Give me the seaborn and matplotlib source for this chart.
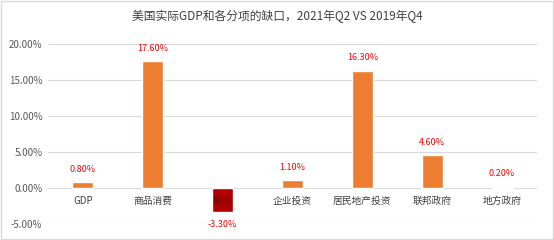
import matplotlib
matplotlib.use("Agg")
import matplotlib.pyplot as plt
import seaborn as sns
import pandas as pd
from matplotlib.patches import Rectangle

categories = ["GDP", "商品消费", "服务", "企业投资", "居民地产投资", "联邦政府", "地方政府"]
values = [0.80, 17.60, -3.30, 1.10, 16.30, 4.60, 0.20]
bar_colors = ["#ED7D31", "#ED7D31", "#B00000", "#ED7D31", "#ED7D31", "#ED7D31", "#ED7D31"]
yticks = [-5, 0, 5, 10, 15, 20]
title = "美国实际GDP和各分项的缺口，2021年Q2 VS 2019年Q4"

sns.set_theme(style="white")
plt.rcParams['font.family'] = ['Noto Sans CJK SC', 'DejaVu Sans']

df = pd.DataFrame({"cat": categories, "val": values})

fig = plt.figure(figsize=(5.54, 2.40), dpi=100)
ax = fig.add_axes([0.0866, 0.0667, 0.8827, 0.75])

sns.barplot(data=df, x="cat", y="val", hue="cat", palette=bar_colors, legend=False,
            width=0.3, ax=ax, zorder=3, saturation=1)

ax.set_ylim(-5, 20)
ax.set_yticks(yticks)
ax.set_yticklabels([f"{v:.2f}%" for v in yticks], fontsize=7, color="#595959")
ax.set_xlim(-0.5, len(categories) - 0.5)
ax.set_xlabel("")
ax.set_ylabel("")
ax.grid(axis="y", color="#D9D9D9", linewidth=0.8, zorder=0)
for s in ax.spines.values():
    s.set_visible(False)
ax.tick_params(axis="both", length=0, pad=4)

# category labels placed just below zero line
ax.set_xticks(range(len(categories)))
ax.set_xticklabels([])
for i, c in enumerate(categories):
    col = "#7A0000" if values[i] < 0 else "#404040"
    ax.annotate(c, xy=(i, 0), xytext=(0, -6), textcoords="offset points",
                ha="center", va="top", fontsize=7, color=col, zorder=5)

for i, v in enumerate(values):
    if v >= 0:
        ax.annotate(f"{v:.2f}%", xy=(i, v), xytext=(0, 6), textcoords="offset points",
                    ha="center", va="bottom", fontsize=6.5, color="#FF0000")
    else:
        ax.annotate(f"{v:.2f}%", xy=(i, v), xytext=(0, -6), textcoords="offset points",
                    ha="center", va="top", fontsize=6.5, color="#FF0000")

fig.text(0.5, 0.93, title, ha="center", va="center", fontsize=8.5, color="#404040")

fig.patches.append(Rectangle((0.002, 0.004), 0.996, 0.992, transform=fig.transFigure,
                             fill=False, edgecolor="#D9D9D9", linewidth=1))

fig.savefig("out.png", dpi=100)
